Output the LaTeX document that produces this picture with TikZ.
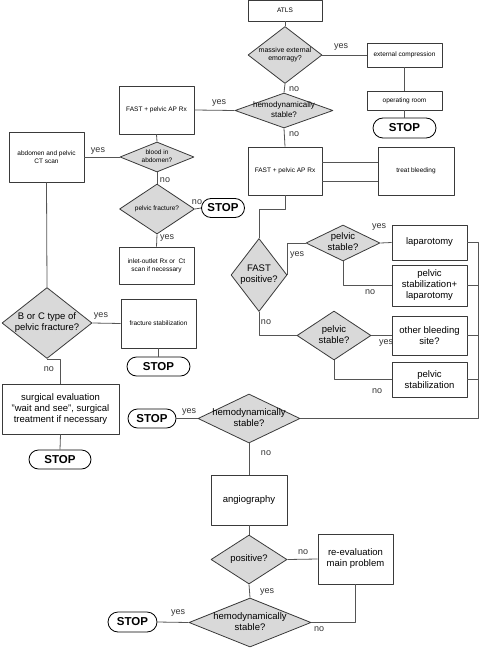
\documentclass[tikz,border=0pt]{standalone}
\usepackage{fontspec}
\setmainfont{Liberation Sans}
\usetikzlibrary{shapes.geometric,shapes.misc}
\definecolor{lncol}{HTML}{555555}
\definecolor{bdcol}{HTML}{3A3A3A}
\definecolor{dfill}{HTML}{D9D9D9}
\newcommand{\smallf}{\fontsize{6.5}{8}\selectfont}
\newcommand{\medf}{\fontsize{9.5}{11}\selectfont}
\newcommand{\dtxt}[1]{\smash{\makebox[0pt]{\raisebox{-0.25em}{\begin{tabular}{@{}c@{}}#1\end{tabular}}}}}
\tikzset{
  every picture/.style={line join=round, line width=0.8pt},
  sz/.style 2 args={minimum width=#1pt, minimum height=#2pt},
  box/.style={draw=bdcol, fill=white, inner sep=1pt, align=center, font=\smallf},
  bbox/.style={box, font=\medf},
  dec/.style={diamond, draw=bdcol, fill=dfill, inner sep=0pt, font=\smallf},
  stopnode/.style={rounded rectangle, draw=black, fill=white, inner sep=0pt, font=\fontsize{11.5}{13}\selectfont\bfseries},
  lbl/.style={inner sep=0pt, font=\fontsize{9}{10}\selectfont, text=black!80},
  link/.style={draw=lncol},
}
\begin{document}
\begin{tikzpicture}[x=1pt,y=-1pt]
\useasboundingbox (0,0) rectangle (484,652);
% top branch
\node[box, sz={74}{21}] (atls) at (285,10.5) {ATLS};
\node[dec, sz={74}{57}, font=\fontsize{7}{8.5}\selectfont] (massive) at (285,55) {\dtxt{massive external\\emorragy?}};
\node[box, sz={75}{24}] (extcomp) at (404.5,55) {external compression};
\node[box, sz={75}{19}] (oproom) at (404.5,100.5) {operating room};
\node[stopnode, sz={63}{20}] (stopA) at (404.5,128) {STOP};
\node[dec, sz={98}{35}, font=\fontsize{8}{9.5}\selectfont] (hemoA) at (284,110.5) {\dtxt{hemodynamically\\stable?}};
% left column
\node[box, sz={75}{48}] (fastA) at (156.5,110) {FAST + pelvic AP Rx};
\node[dec, sz={74}{30}] (blood) at (157,157) {\dtxt{blood in\\abdomen?}};
\node[box, sz={75}{50}] (ctscan) at (46.5,157) {abdomen and pelvic\\CT scan};
\node[dec, sz={75}{50}] (pfrac) at (157,209) {\dtxt{pelvic fracture?}};
\node[stopnode, sz={43}{19}] (stopB) at (223,208) {STOP};
\node[box, sz={75}{37}] (inlet) at (156.5,265.5) {inlet-outlet Rx or\ \ Ct\\scan if necessary};
\node[dec, sz={90}{71}, font=\medf] (bctype) at (47,323) {\dtxt{B or C type of\\pelvic fracture?}};
\node[box, sz={75}{49}] (fstab) at (158.5,323.5) {fracture stabilization};
\node[stopnode, sz={63}{19}] (stopC) at (158.5,366.5) {STOP};
\node[bbox, sz={117}{50}] (surg) at (60.5,409) {surgical evaluation\\"wait and see", surgical\\treatment if necessary};
\node[stopnode, sz={62}{19}] (stopD) at (60,459.5) {STOP};
% right column
\node[box, sz={74}{48}] (fastB) at (285,171) {FAST + pelvic AP Rx};
\node[box, sz={76}{48}] (treat) at (416,171) {treat bleeding};
\node[dec, sz={56}{73}, font=\medf] (fastpos) at (259,275) {\dtxt{FAST\\positive?}};
\node[dec, sz={74}{36}, font=\medf] (pstabA) at (343,243) {\dtxt{pelvic\\stable?}};
\node[bbox, sz={75}{35}] (lap) at (429.5,242.5) {laparotomy};
\node[bbox, sz={75}{41}] (pslap) at (429.5,285.5) {pelvic\\stabilization+\\laparotomy};
\node[dec, sz={74}{49}, font=\medf] (pstabB) at (334,335.5) {\dtxt{pelvic\\stable?}};
\node[bbox, sz={75}{39}] (other) at (429.5,335.5) {other bleeding\\site?};
\node[bbox, sz={75}{35}] (pstab) at (429.5,379.5) {pelvic\\stabilization};
\node[dec, sz={102}{49}, font=\medf] (hemoB) at (249,418.5) {\dtxt{hemodynamically\\stable?}};
\node[stopnode, sz={48}{19}] (stopE) at (152,418.5) {STOP};
\node[bbox, sz={76}{50}] (angio) at (249,500) {angiography};
\node[dec, sz={76}{49}, font=\medf] (positive) at (249,559.5) {\dtxt{positive?}};
\node[bbox, sz={75}{50}] (reeval) at (355.5,559) {re-evaluation\\main problem};
\node[dec, sz={122}{49}, font=\medf] (hemoC) at (250,622.5) {\dtxt{hemodynamically\\stable?}};
\node[stopnode, sz={49}{20}] (stopF) at (132.5,622) {STOP};
\coordinate (bus) at (478,0);
% connectors
\draw[link] (atls.south) -- (massive.north);
\draw[link] (massive.east) -- (extcomp.west);
\draw[link] (extcomp.south) -- (oproom.north);
\draw[link] (oproom.south) -- (stopA.north);
\draw[link] (massive.south) -- (hemoA.north);
\draw[link] (hemoA.west) -- (fastA.east);
\draw[link] (hemoA.south) -- (fastB.north);
\draw[link] (fastA.south) -- (blood.north);
\draw[link] (blood.west) -- (ctscan.east);
\draw[link] (blood.south) -- (pfrac.north);
\draw[link] (pfrac.east) -- (stopB.west);
\draw[link] (pfrac.south) -- (inlet.north);
\draw[link] (ctscan.south) -- (bctype.north);
\draw[link] (bctype.east) -- (fstab.west);
\draw[link] (fstab.south) -- (stopC.north);
\draw[link] (bctype.south) -| (surg.north);
\draw[link] (surg.south) -- (stopD.north);
\draw[link] ([yshift=9pt]fastB.east) -- ([yshift=9pt]treat.west);
\draw[link] ([yshift=-10pt]fastB.east) -- ([yshift=-10pt]treat.west);
\draw[link] (fastB.south) -- ++(0,14) -| (fastpos.north);
\draw[link] (fastpos.east) |- (pstabA.west);
\draw[link] (pstabA.east) -- (lap.west);
\draw[link] (pstabA.south) |- (pslap.west);
\draw[link] (fastpos.south) |- (pstabB.west);
\draw[link] (pstabB.east) -- (other.west);
\draw[link] (pstabB.south) |- (pstab.west);
\draw[link] (lap.east) -- (lap.east -| bus) |- (hemoB.east);
\draw[link] (pslap.east) -- (pslap.east -| bus);
\draw[link] (other.east) -- (other.east -| bus);
\draw[link] (pstab.east) -- (pstab.east -| bus);
\draw[link] (hemoB.west) -- (stopE.east);
\draw[link] (hemoB.south) -- (angio.north);
\draw[link] (angio.south) -- (positive.north);
\draw[link] (positive.east) -- (reeval.west);
\draw[link] (positive.south) -- (hemoC.north);
\draw[link] (reeval.south) |- (hemoC.east);
\draw[link] (hemoC.west) -- (stopF.east);
% yes / no
\node[lbl] (yesA) at (341,47) {yes};
\node[lbl] (noA) at (294,89) {no};
\node[lbl] (yesB) at (219,103) {yes};
\node[lbl] (noB) at (294,134) {no};
\node[lbl] (yesC) at (98,151) {yes};
\node[lbl] (noC) at (165,180) {no};
\node[lbl] (noD) at (197,202) {no};
\node[lbl] (yesD) at (167,238) {yes};
\node[lbl] (yesE) at (101,316) {yes};
\node[lbl] (noE) at (49,369) {no};
\node[lbl] (yesF) at (297,255) {yes};
\node[lbl] (yesG) at (379,227) {yes};
\node[lbl] (noF) at (370,292) {no};
\node[lbl] (noG) at (266,322) {no};
\node[lbl] (yesH) at (386,343) {yes};
\node[lbl] (noH) at (377,391) {no};
\node[lbl] (yesI) at (189,412) {yes};
\node[lbl] (noI) at (266,453) {no};
\node[lbl] (noJ) at (303,552) {no};
\node[lbl] (yesJ) at (267,592) {yes};
\node[lbl] (noK) at (319,629) {no};
\node[lbl] (yesK) at (178,613) {yes};
\end{tikzpicture}
\end{document}
